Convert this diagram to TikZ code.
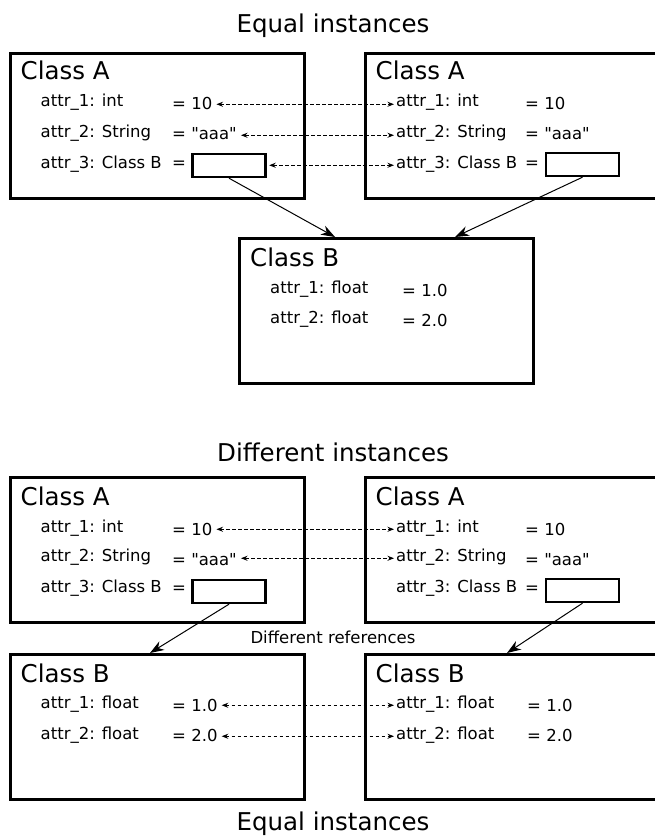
\documentclass[tikz,border=0pt]{standalone}
\usepackage{fontspec}
\setmainfont{DejaVu Sans}[Ligatures=TeXOff]
\usetikzlibrary{arrows.meta}
\begin{document}
\begin{tikzpicture}[x=1pt,y=-1pt,
  cbox/.style={draw, line width=2.6pt, anchor=north west, minimum width=294pt, minimum height=145pt, inner sep=0pt},
  ibox/.style={draw, line width=2.4pt, minimum width=73pt, minimum height=23pt, inner sep=0pt},
  big/.style={font=\fontsize{24.5}{28}\selectfont, inner sep=0pt, anchor=base west},
  ttl/.style={font=\fontsize{24.5}{28}\selectfont, inner sep=0pt, anchor=base},
  txt/.style={font=\fontsize{16.5}{20}\selectfont, inner sep=0pt, anchor=base west},
  darr/.style={line width=0.9pt, dash pattern=on 3.5pt off 2.5pt,
     {Stealth[length=6.5pt,width=5pt]}-{Stealth[length=6.5pt,width=5pt]},
     shorten <=4pt, shorten >=2pt},
  sarr/.style={line width=1pt, -{Stealth[length=14pt,width=10pt,inset=4.5pt]}}
]
\useasboundingbox (0,0) rectangle (655,837);
\clip (0,0) rectangle (655,837);

% ---------- top: Equal instances ----------
\node[ttl] (title1) at (333,33) {Equal instances};

\node[cbox] (A1) at (9,52) {};
\node[big] (A1t) at (20.5,80) {Class A};
\node[txt] (A1n1) at (40.5,107) {attr\_1: int};
\node[txt] (A1n2) at (40.5,138) {attr\_2: String};
\node[txt] (A1n3) at (40.5,168) {attr\_3: Class B};
\node[txt] (A1v1) at (172,110) {= 10};
\node[txt] (A1v2) at (172,140) {= "aaa"};
\node[txt] (A1v3) at (172,169) {=};
\node[ibox] (A1r) at (229,165.5) {};

\node[cbox] (A2) at (364,52) {};
\node[big] (A2t) at (375.5,80) {Class A};
\node[txt] (A2n1) at (396,107) {attr\_1: int};
\node[txt] (A2n2) at (396,138) {attr\_2: String};
\node[txt] (A2n3) at (396,168) {attr\_3: Class B};
\node[txt] (A2v1) at (525,110) {= 10};
\node[txt] (A2v2) at (525,140) {= "aaa"};
\node[txt] (A2v3) at (525,169) {=};
\node[ibox] (A2r) at (582.5,164.5) {};

\node[cbox] (B1) at (238,237) {};
\node[big] (B1t) at (250,266) {Class B};
\node[txt] (B1n1) at (270,293) {attr\_1: float};
\node[txt] (B1n2) at (270,323) {attr\_2: float};
\node[txt] (B1v1) at (402,296) {= 1.0};
\node[txt] (B1v2) at (402,326) {= 2.0};

\draw[darr] (A1v1.east |- A2n1.mid west) -- (A2n1.mid west);
\draw[darr] (A1v2.east |- A2n2.mid west) -- (A2n2.mid west);
\draw[darr, shorten <=2.5pt] (A1r.east |- A2n3.mid west) -- (A2n3.mid west);

\coordinate (B1in1) at (335,237);
\coordinate (B1in2) at (455,237);
\draw[sarr] (A1r.south) -- (B1in1);
\draw[sarr] (A2r.south) -- (B1in2);

% ---------- bottom: Different instances ----------
\node[ttl] (title2) at (333,461) {Different instances};

\node[cbox] (A3) at (9,476) {};
\node[big] (A3t) at (20.5,505) {Class A};
\node[txt] (A3n1) at (40.5,532) {attr\_1: int};
\node[txt] (A3n2) at (40.5,561) {attr\_2: String};
\node[txt] (A3n3) at (40.5,592) {attr\_3: Class B};
\node[txt] (A3v1) at (172,535) {= 10};
\node[txt] (A3v2) at (172,565) {= "aaa"};
\node[txt] (A3v3) at (172,593) {=};
\node[ibox] (A3r) at (229,591.5) {};

\node[cbox] (A4) at (364,476) {};
\node[big] (A4t) at (375.5,505) {Class A};
\node[txt] (A4n1) at (396,532) {attr\_1: int};
\node[txt] (A4n2) at (396,561) {attr\_2: String};
\node[txt] (A4n3) at (396,592) {attr\_3: Class B};
\node[txt] (A4v1) at (525,535) {= 10};
\node[txt] (A4v2) at (525,565) {= "aaa"};
\node[txt] (A4v3) at (525,593) {=};
\node[ibox] (A4r) at (582.5,590.5) {};

\draw[darr] (A3v1.east |- A4n1.mid west) -- (A4n1.mid west);
\draw[darr] (A3v2.east |- A4n2.mid west) -- (A4n2.mid west);

\node[font=\fontsize{16.5}{20}\selectfont, inner sep=0pt, anchor=base] (ref) at (333,643) {Different references};

\node[cbox] (B2) at (9,653) {};
\node[big] (B2t) at (20.5,682) {Class B};
\node[txt] (B2n1) at (40.5,708) {attr\_1: float};
\node[txt] (B2n2) at (40.5,739) {attr\_2: float};
\node[txt] (B2v1) at (172,711) {= 1.0};
\node[txt] (B2v2) at (172,741) {= 2.0};

\node[cbox] (B3) at (364,653) {};
\node[big] (B3t) at (375.5,682) {Class B};
\node[txt] (B3n1) at (396,708) {attr\_1: float};
\node[txt] (B3n2) at (396,739) {attr\_2: float};
\node[txt] (B3v1) at (527,711) {= 1.0};
\node[txt] (B3v2) at (527,741) {= 2.0};

\draw[darr] (B2v1.east |- B3n1.mid west) -- (B3n1.mid west);
\draw[darr] (B2v2.east |- B3n2.mid west) -- (B3n2.mid west);

\coordinate (B2in) at (150,653);
\coordinate (B3in) at (507,653);
\draw[sarr] (A3r.south) -- (B2in);
\draw[sarr] (A4r.south) -- (B3in);

\node[ttl] (title3) at (333,830) {Equal instances};
\end{tikzpicture}
\end{document}
